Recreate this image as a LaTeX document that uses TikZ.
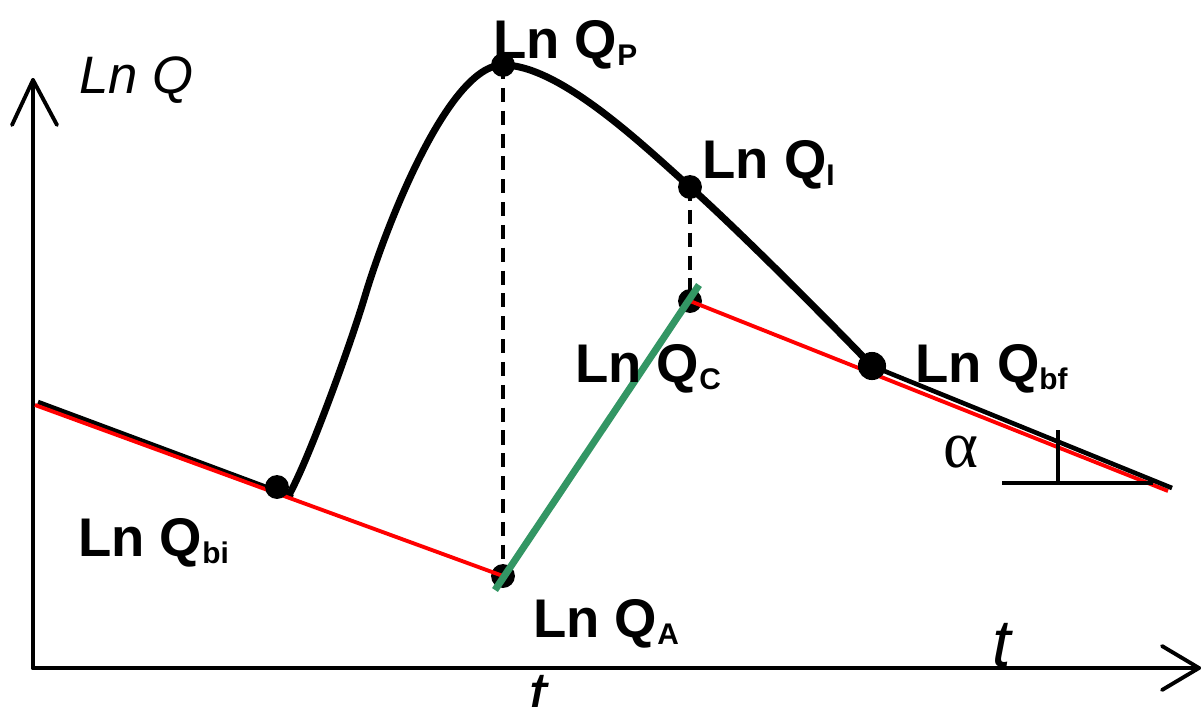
\documentclass[tikz,border=0pt]{standalone}
\usepackage{fontspec}
\setmainfont{Liberation Sans}
\newfontfamily\serifgreek{Liberation Serif}
\definecolor{curvegreen}{RGB}{51,150,100}
\newcommand\lnqlabel[1]{Ln Q\raisebox{-4pt}{\fontsize{17}{17}\selectfont #1}}
\tikzset{
  axisline/.style={line width=2.2pt, line cap=round, line join=round},
  mainline/.style={line width=4pt, line cap=round},
  dropline/.style={line width=1.8pt, dash pattern=on 8pt off 5pt},
  redline/.style={line width=2.2pt, red},
  greenline/.style={line width=4pt, curvegreen},
  tailline/.style={line width=2.6pt},
  dot/.style={circle, fill=black, inner sep=0pt, minimum size=13.6pt},
  bigdot/.style={circle, fill=black, inner sep=0pt, minimum size=16pt},
  lbl/.style={anchor=base west, inner sep=0pt, font=\bfseries\fontsize{31}{31}\selectfont},
}
\begin{document}
\begin{tikzpicture}[x=0.02cm, y=-0.02cm]
\useasboundingbox (0,0) rectangle (1201,707);
\clip (0,0) rectangle (1201,707);
% axes
\coordinate (O) at (33,668);
\coordinate (ytip) at (33,80);
\coordinate (xtip) at (1199,668);
\draw[axisline] (O) -- (ytip);
\draw[axisline] (ytip) -- ++(-21,45);
\draw[axisline] (ytip) -- ++(24,45);
\draw[axisline] (O) -- (xtip);
\draw[axisline] (xtip) -- ++(-37,-22);
\draw[axisline] (xtip) -- ++(-37,22);
% points
\coordinate (bi) at (277,487);
\coordinate (A) at (503,576);
\coordinate (C) at (690,301);
\coordinate (I) at (690,187);
\coordinate (P) at (503,65);
\coordinate (bf) at (872,366);
\coordinate (rise) at (290,493);
\coordinate (infl) at (365,296);
\coordinate (redL) at (35,405);
\coordinate (blkL) at (38,402);
\coordinate (blkLend) at (293,497);
\coordinate (redR) at (1168,491);
\coordinate (blkR) at (1172,488);
\coordinate (gA) at (495,590);
\coordinate (gC) at (699,285);
% dashed drops
\draw[dropline] (P) -- (A);
\draw[dropline] (I) -- (C);
% hydrograph curve
\draw[mainline] (rise) .. controls (310,456) and (350,346) .. (infl)
  .. controls (385,229) and (448,65) .. (P)
  .. controls (560,65) and (645,147) .. (I)
  .. controls (735,227) and (830,322) .. (bf);
% dots under lines
\node[dot] (nA) at (A) {};
\node[dot] (nC) at (C) {};
\node[dot] (nP) at (P) {};
\node[dot] (nI) at (I) {};
% baselines
\draw[tailline] (blkL) -- (blkLend);
\draw[redline] (redL) -- (A);
\draw[redline] (C) -- (redR);
\draw[tailline] (bf) -- (blkR);
\draw[greenline] (gA) -- (gC);
\node[dot] (nbi) at (bi) {};
\node[bigdot] (nbf) at (bf) {};
% angle marker
\coordinate (h1) at (1002,483);
\coordinate (h2) at (1153,483);
\coordinate (v1) at (1058,430);
\coordinate (v2) at (1058,483);
\draw[axisline, line cap=butt] (h1) -- (h2);
\draw[axisline, line cap=butt] (v1) -- (v2);
% labels
\node[lbl] (tP) at (493,58) {\lnqlabel{P}};
\node[lbl] (tI) at (702,178) {\lnqlabel{I}};
\node[lbl] (tC) at (575,382) {\lnqlabel{C}};
\node[lbl] (tbf) at (915,382) {\lnqlabel{bf}};
\node[lbl] (tbi) at (78,556) {\lnqlabel{bi}};
\node[lbl] (tA) at (533,637) {\lnqlabel{A}};
\node[anchor=base west, inner sep=0pt, font=\itshape\fontsize{30}{30}\selectfont] (tLnQ) at (79,93) {Ln Q};
\node[anchor=base west, inner sep=0pt, font=\serifgreek\fontsize{38}{38}\selectfont] (talpha) at (943,467) {α};
\node[anchor=base west, inner sep=0pt, font=\itshape\fontsize{38}{38}\selectfont] (tt1) at (992,666) {t};
\node[anchor=base west, inner sep=0pt, font=\itshape\fontsize{38}{38}\selectfont] (tt2) at (528,718) {t};
\end{tikzpicture}
\end{document}
